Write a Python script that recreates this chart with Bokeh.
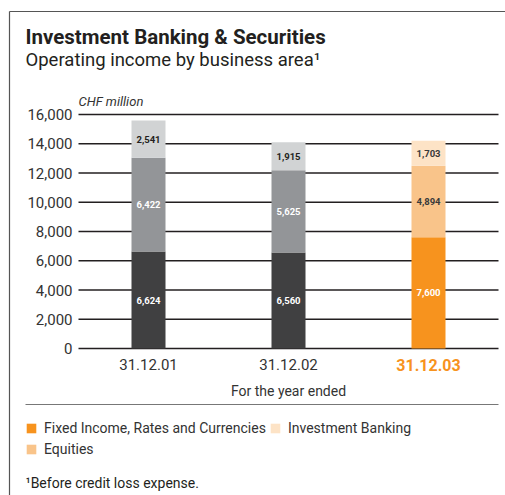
from bokeh.plotting import figure
from bokeh.models import ColumnDataSource, Label, Legend, LegendItem, Range1d
from bokeh.core.properties import value
from bokeh.embed import file_html
from bokeh.resources import INLINE

# ---- data ----
years = ["31.12.01", "31.12.02", "31.12.03"]
fixed_income = [6624, 6560, 7600]
equities = [6422, 5625, 4894]
investment_banking = [2541, 1915, 1703]
y_ticks = [0, 2000, 4000, 6000, 8000, 10000, 12000, 14000, 16000]

fi_colors = ["#404041", "#404041", "#f7931e"]
eq_colors = ["#939598", "#939598", "#f9c48a"]
ib_colors = ["#d1d3d4", "#d1d3d4", "#fde3c6"]
fi_text = ["#ffffff", "#ffffff", "#ffffff"]
eq_text = ["#ffffff", "#ffffff", "#3a3a3a"]
ib_text = ["#231f20", "#231f20", "#3a3a3a"]

FONT = "Roboto"
W, H = 505, 495
# plot area (pixels): left, right, top (16,000), bottom (0)
L, R, T, B = 78, 498, 114, 348
YMAX = 16000
STEP = (R - L) / len(years)          # pixels per category
X0 = L + STEP / 2                    # pixel centre of first category

xi = list(range(len(years)))
fi_top = list(fixed_income)
eq_top = [a + b for a, b in zip(fixed_income, equities)]
ib_top = [a + b + c for a, b, c in zip(fixed_income, equities, investment_banking)]

src = ColumnDataSource(dict(
    x=xi,
    fi_b=[0] * 3, fi_t=fi_top,
    eq_b=fi_top, eq_t=eq_top,
    ib_b=eq_top, ib_t=ib_top,
    fi_c=fi_colors, eq_c=eq_colors, ib_c=ib_colors,
    fi_m=[v / 2 for v in fi_top],
    eq_m=[(a + b) / 2 for a, b in zip(fi_top, eq_top)],
    ib_m=[(a + b) / 2 for a, b in zip(eq_top, ib_top)],
    fi_l=[f"{v:,}" for v in fixed_income],
    eq_l=[f"{v:,}" for v in equities],
    ib_l=[f"{v:,}" for v in investment_banking],
    fi_tc=fi_text, eq_tc=eq_text, ib_tc=ib_text,
))

# whole canvas is the frame; default ranges are pixel positions (y downwards)
p = figure(width=W, height=H, x_range=Range1d(0, W), y_range=Range1d(H, 0),
           x_axis_location=None, y_axis_location=None,
           output_backend="svg", toolbar_location=None,
           min_border=0, min_border_left=0, min_border_right=0,
           min_border_top=0, min_border_bottom=0)
p.outline_line_color = None
p.grid.visible = False
p.background_fill_color = "white"
p.border_fill_color = "white"

# value scales for the bars
p.extra_x_ranges = {"cat": Range1d(-X0 / STEP, (W - X0) / STEP)}
p.extra_y_ranges = {"val": Range1d(-(H - B) * YMAX / (B - T), YMAX + T * YMAX / (B - T))}

# gridlines
p.segment(x0=L, x1=R, y0=y_ticks, y1=y_ticks, y_range_name="val",
          line_color="#231f20", line_width=1.3)

# y tick labels
p.text(x=L - 6, y=y_ticks, text=[f"{v:,}" for v in y_ticks], y_range_name="val",
       text_align="right", text_baseline="middle", text_font=value(FONT),
       text_font_size="15px", text_color="#333333")

BW = 34 / STEP
r_fi = p.vbar(x="x", bottom="fi_b", top="fi_t", width=BW, fill_color="fi_c", line_color=None,
              source=src, x_range_name="cat", y_range_name="val")
r_eq = p.vbar(x="x", bottom="eq_b", top="eq_t", width=BW, fill_color="eq_c", line_color=None,
              source=src, x_range_name="cat", y_range_name="val")
r_ib = p.vbar(x="x", bottom="ib_b", top="ib_t", width=BW, fill_color="ib_c", line_color=None,
              source=src, x_range_name="cat", y_range_name="val")

for m, l, c in [("fi_m", "fi_l", "fi_tc"), ("eq_m", "eq_l", "eq_tc"), ("ib_m", "ib_l", "ib_tc")]:
    p.text(x="x", y=m, text=l, text_color=c, source=src, text_align="center",
           text_baseline="middle", text_font=value(FONT), text_font_style="bold",
           text_font_size="9.5px", x_range_name="cat", y_range_name="val")

# category labels
p.text(x=xi[:2], y=[364, 364], text=years[:2], x_range_name="cat",
       text_align="center", text_baseline="middle", text_font=value(FONT),
       text_font_size="15px", text_color="#333333")
p.text(x=xi[2:], y=[364], text=years[2:], x_range_name="cat",
       text_align="center", text_baseline="middle", text_font=value(FONT),
       text_font_size="16px", text_font_style="bold", text_color="#f7931e")


def lab(px, py, text, size, style="normal", color="#231f20", align="left"):
    p.add_layout(Label(x=px, y=py, text=text, text_font=FONT,
                       text_font_size=size, text_font_style=style, text_color=color,
                       text_align=align, text_baseline="middle"))


lab(25, 36, "Investment Banking & Securities", "20.5px", "bold", "#231f20")
lab(25, 59, "Operating income by business area\u00b9", "18.5px", "normal", "#231f20")
lab(78, 101, "CHF million", "13px", "italic", "#333333")
lab(288, 390, "For the year ended", "14px", "normal", "#333333", "center")
lab(25, 482, "\u00b9Before credit loss expense.", "14px", "normal", "#231f20")

# frame lines and separator
p.segment(x0=[9, 9], y0=[11, 11], x1=[9, W + 5], y1=[H + 5, 11],
          line_color="#555555", line_width=1.2)
p.segment(x0=[25], y0=[404], x1=[R], y1=[404], line_color="#777777", line_width=1.0)

legend = Legend(items=[
    LegendItem(label="Fixed Income, Rates and Currencies", renderers=[r_fi], index=2),
    LegendItem(label="Investment Banking", renderers=[r_ib], index=2),
    LegendItem(label="Equities", renderers=[r_eq], index=2),
], orientation="horizontal", nrows=2, location=(25, H - 458),
    glyph_width=12, glyph_height=12, label_standoff=7, spacing=3,
    padding=0, margin=0, border_line_color=None, background_fill_alpha=0,
    label_text_font=FONT, label_text_font_size="14px", label_text_color="#333333",
    label_height=18)
p.add_layout(legend, "center")

open("out.html", "w").write(file_html(p, INLINE))
